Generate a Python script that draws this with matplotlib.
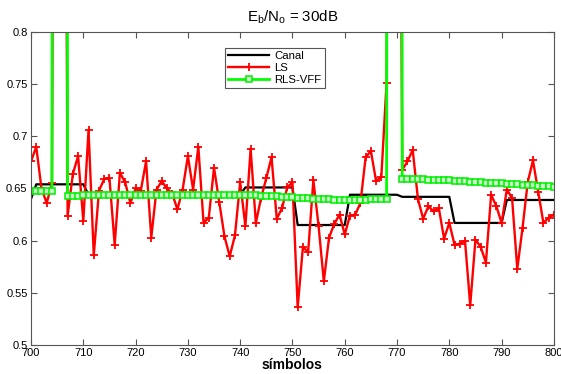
import numpy as np
import matplotlib
matplotlib.use("Agg")
import matplotlib.pyplot as plt

plt.rcParams['font.family'] = ['Liberation Sans', 'DejaVu Sans']

# simbolos 700..800
simbolos = np.arange(700, 801)

# canal real
canal = [
    0.640, 0.654, 0.654, 0.654, 0.654, 0.654, 0.654, 0.654, 0.654, 0.654,
    0.654, 0.644, 0.644, 0.644, 0.644, 0.644, 0.644, 0.644, 0.644, 0.644,
    0.644, 0.644, 0.644, 0.644, 0.644, 0.644, 0.644, 0.644, 0.644, 0.644,
    0.644, 0.644, 0.644, 0.644, 0.644, 0.644, 0.644, 0.644, 0.644, 0.644,
    0.644, 0.651, 0.651, 0.651, 0.651, 0.651, 0.651, 0.651, 0.651, 0.651,
    0.651, 0.615, 0.615, 0.615, 0.615, 0.615, 0.615, 0.615, 0.615, 0.615,
    0.615, 0.644, 0.644, 0.644, 0.644, 0.644, 0.644, 0.644, 0.644, 0.644,
    0.644, 0.642, 0.642, 0.642, 0.642, 0.642, 0.642, 0.642, 0.642, 0.642,
    0.642, 0.617, 0.617, 0.617, 0.617, 0.617, 0.617, 0.617, 0.617, 0.617,
    0.617, 0.639, 0.639, 0.639, 0.639, 0.639, 0.639, 0.639, 0.639, 0.639,
    0.639,
]

# estimacion LS
ls = [
    0.676, 0.690, 0.650, 0.636, 0.655, 1.900, 1.700, 0.624, 0.664, 0.681,
    0.619, 0.706, 0.586, 0.648, 0.659, 0.660, 0.596, 0.665, 0.656, 0.636,
    0.650, 0.648, 0.676, 0.603, 0.649, 0.657, 0.650, 0.645, 0.630, 0.649,
    0.681, 0.649, 0.690, 0.617, 0.622, 0.670, 0.637, 0.604, 0.585, 0.605,
    0.656, 0.614, 0.688, 0.617, 0.641, 0.660, 0.680, 0.621, 0.631, 0.651,
    0.656, 0.536, 0.594, 0.589, 0.658, 0.614, 0.561, 0.603, 0.616, 0.625,
    0.606, 0.624, 0.625, 0.636, 0.680, 0.686, 0.657, 0.661, 0.751, 1.800,
    1.600, 0.668, 0.676, 0.687, 0.640, 0.621, 0.633, 0.628, 0.631, 0.602,
    0.617, 0.596, 0.597, 0.600, 0.538, 0.601, 0.594, 0.579, 0.644, 0.633,
    0.617, 0.649, 0.641, 0.573, 0.612, 0.656, 0.677, 0.647, 0.617, 0.622,
    0.625,
]

# estimacion RLS-VFF
rls = [
    0.6480, 0.6480, 0.6479, 0.6479, 0.6478, 6.0000, 6.0000, 0.6430, 0.6431, 0.6432,
    0.6433, 0.6434, 0.6434, 0.6435, 0.6435, 0.6436, 0.6436, 0.6436, 0.6437, 0.6437,
    0.6437, 0.6437, 0.6437, 0.6437, 0.6437, 0.6437, 0.6437, 0.6437, 0.6437, 0.6437,
    0.6437, 0.6437, 0.6437, 0.6437, 0.6437, 0.6437, 0.6437, 0.6436, 0.6436, 0.6436,
    0.6436, 0.6435, 0.6434, 0.6433, 0.6432, 0.6430, 0.6428, 0.6426, 0.6423, 0.6420,
    0.6417, 0.6413, 0.6410, 0.6407, 0.6404, 0.6401, 0.6398, 0.6395, 0.6393, 0.6391,
    0.6390, 0.6391, 0.6392, 0.6393, 0.6394, 0.6395, 0.6396, 0.6397, 0.6398, 6.0000,
    6.0000, 0.6590, 0.6590, 0.6589, 0.6588, 0.6587, 0.6586, 0.6584, 0.6582, 0.6580,
    0.6578, 0.6575, 0.6572, 0.6569, 0.6566, 0.6563, 0.6560, 0.6557, 0.6554, 0.6551,
    0.6548, 0.6545, 0.6542, 0.6539, 0.6536, 0.6533, 0.6530, 0.6527, 0.6524, 0.6521,
    0.6518,
]

fig = plt.figure(figsize=(5.61, 3.74), dpi=100)
ax = fig.add_axes([0.0553, 0.0775, 0.932, 0.837])

ax.plot(simbolos, canal, color="k", linewidth=1.6, label="Canal")
ax.plot(simbolos, ls, color="r", linewidth=1.7, marker="+", markersize=5.5,
        markeredgewidth=1.3, label="LS")
ax.plot(simbolos, rls, color="#00ff00", linewidth=2.0, marker="s", markersize=4.2,
        markerfacecolor="#c8ffc8", markeredgecolor="#00ee00", markeredgewidth=1.1,
        label="RLS-VFF")

ax.set_xlim(700, 800)
ax.set_ylim(0.5, 0.8)
ax.set_xticks(np.arange(700, 801, 10))
ax.set_yticks([0.5, 0.55, 0.6, 0.65, 0.7, 0.75, 0.8])
ax.set_yticklabels(["0.5", "0.55", "0.6", "0.65", "0.7", "0.75", "0.8"])
ax.tick_params(direction="in", top=True, right=True, labelsize=8, length=4,
               colors="#555555", labelcolor="black", pad=2.5)
for s in ax.spines.values():
    s.set_color("#555555")
    s.set_linewidth(0.8)

ax.set_title(r"E$_\mathregular{b}$/N$_\mathregular{o}$ = 30dB", fontsize=10.8, pad=8)
ax.set_xlabel("símbolos", fontsize=10, fontweight="bold", labelpad=0)

leg = ax.legend(loc="upper left", bbox_to_anchor=(0.371, 0.949), fontsize=8.2,
                fancybox=False, framealpha=1, edgecolor="#555555",
                handlelength=3.6, borderpad=0.3, labelspacing=0.15,
                handletextpad=0.4, borderaxespad=0)
leg.get_frame().set_linewidth(0.8)

fig.savefig("out.png", dpi=100)
